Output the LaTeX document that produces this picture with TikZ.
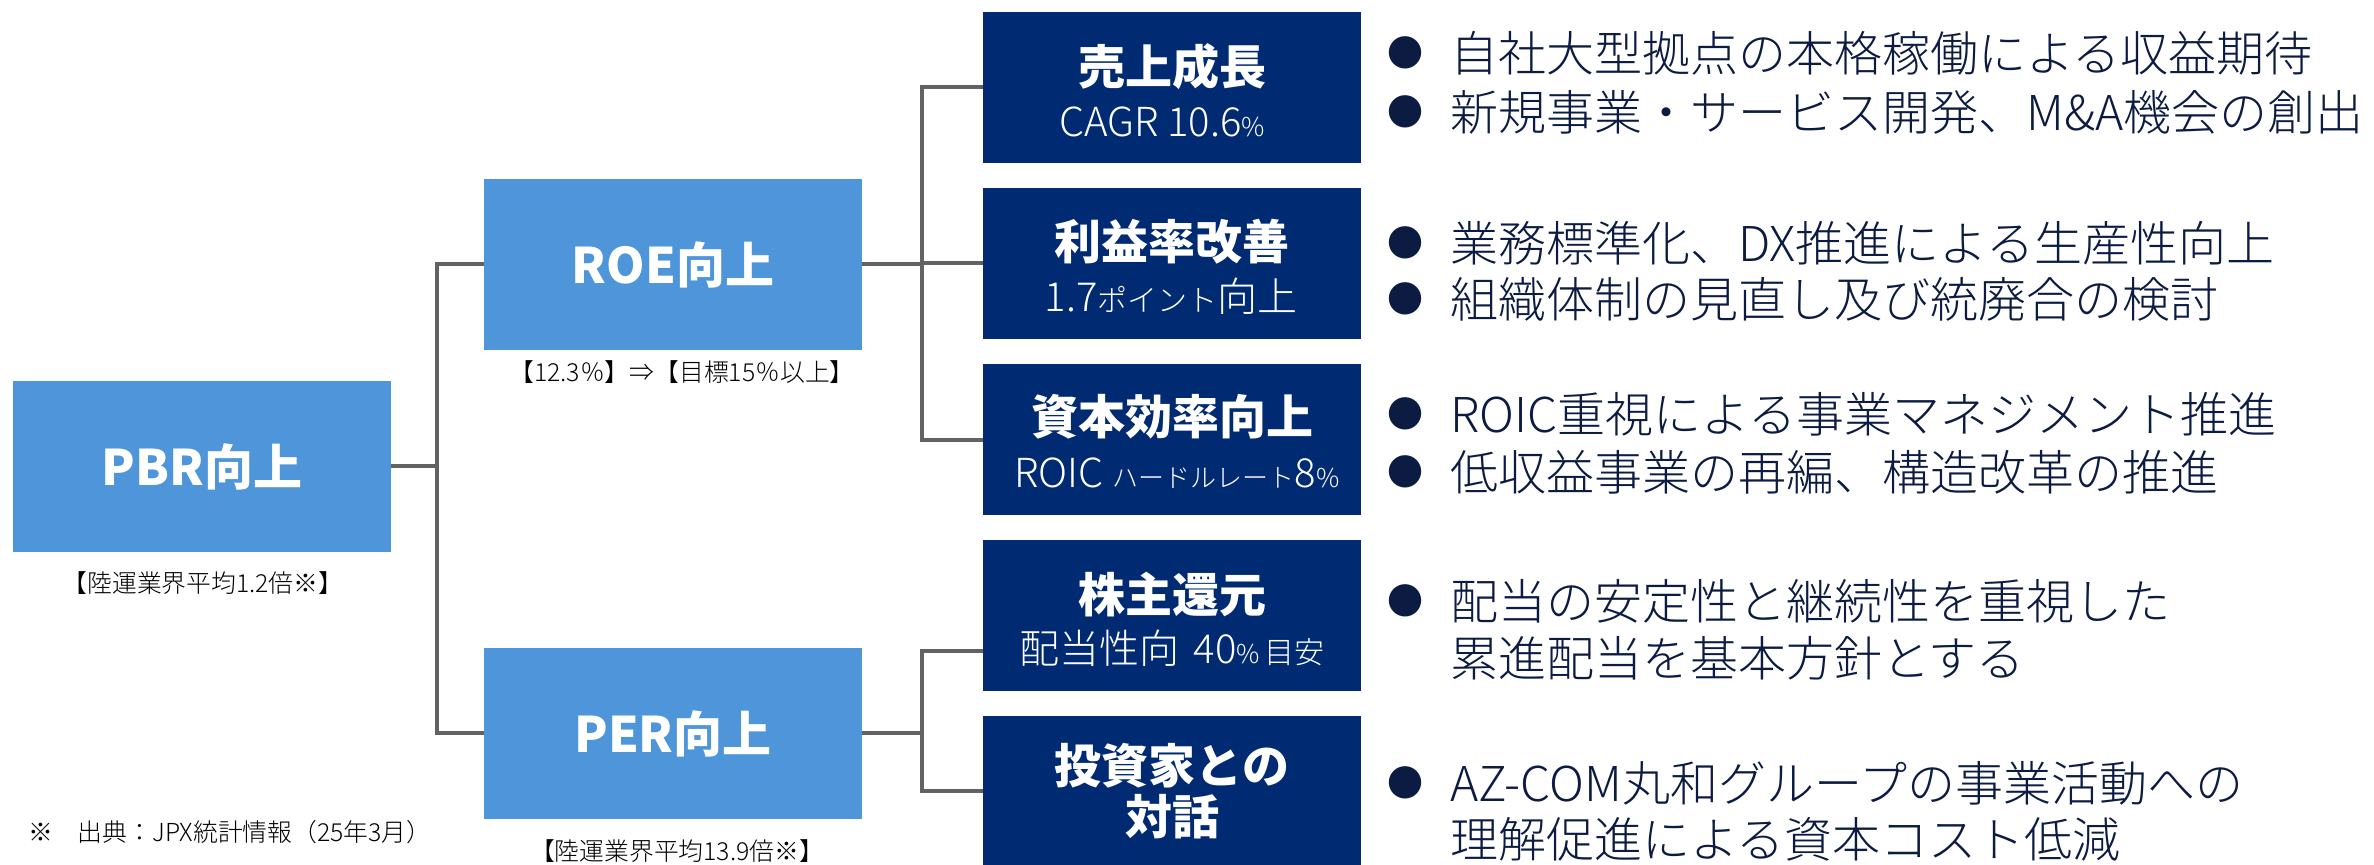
\documentclass[tikz,border=0pt]{standalone}
\usepackage{fontspec}
\setmainfont{Noto Sans CJK JP}
\newfontfamily\lightfont{Noto Sans CJK JP Light}
\definecolor{lblue}{HTML}{4F95D9}
\definecolor{navy}{HTML}{002B73}
\definecolor{txtnavy}{HTML}{0C1B42}
\definecolor{connc}{HTML}{626262}
\newcommand{\pctsm}{{\fontsize{13}{13}\selectfont\%}}
\newcommand{\kanasm}[1]{{\fontsize{15}{15}\selectfont #1}}
\begin{document}
\begin{tikzpicture}[x=0.5pt,y=-0.5pt,
  bluebox/.style={fill=lblue, minimum width=189pt, minimum height=85.5pt, inner sep=0pt,
    text=white, font=\bfseries\fontsize{24.5}{28}\selectfont},
  navybox/.style={fill=navy, minimum width=189pt, minimum height=75.5pt, inner sep=0pt},
  ttl/.style={text=white, font=\bfseries\fontsize{23.5}{25.5}\selectfont, align=center, inner sep=0pt},
  subl/.style={text=white, font=\lightfont\fontsize{20}{24}\selectfont, inner sep=0pt},
  lbl/.style={text=black, font=\lightfont\fontsize{12.4}{14}\selectfont, inner sep=0pt},
  conn/.style={draw=connc, line width=2pt},
  btxt/.style={text=txtnavy, font=\lightfont\fontsize{24}{28}\selectfont, anchor=west, inner sep=0pt},
  bul/.style={text=txtnavy, font=\fontsize{18}{18}\selectfont, inner sep=0pt}
]
\useasboundingbox (0,0) rectangle (2374,865);

% blue boxes
\node[bluebox] (PBR) at (202,466.5) {PBR向上};
\node[bluebox] (ROE) at (673,264.5) {ROE向上};
\node[bluebox] (PER) at (673,733.5) {PER向上};

\node[lbl] (PBRl) at (203,583) {【陸運業界平均1.2倍※】};
\node[lbl] (ROEl) at (682,372) {【12.3％】⇒【目標15％以上】};
\node[lbl] (PERl) at (677,851) {【陸運業界平均13.9倍※】};
\node[lbl, anchor=west] (note) at (28,832) {※　出典：JPX統計情報（25年3月）};

% navy boxes
\node[navybox] (A) at (1172,87.5) {};
\node[navybox] (B) at (1172,263.5) {};
\node[navybox] (C) at (1172,440) {};
\node[navybox] (D) at (1172,616) {};
\node[navybox] (E) at (1172,791.5) {};

\node[ttl] (At) at (1172,67) {売上成長};
\node[subl] (As) at (1162,122) {CAGR 10.6\pctsm};
\node[ttl] (Bt) at (1172,242) {利益率改善};
\node[subl] (Bs) at (1171,296) {1.7\kanasm{ポイント}向上};
\node[ttl] (Ct) at (1172,417) {資本効率向上};
\node[subl] (Cs) at (1177,473) {ROIC {\fontsize{13}{13}\selectfont ハードルレート}8\pctsm};
\node[ttl] (Dt) at (1172,595) {株主還元};
\node[subl] (Ds) at (1172,648) {配当性向\hspace{7pt}40\pctsm\hspace{2pt}\kanasm{目安}};
\node[ttl] (Et) at (1172,791.5) {投資家との\\対話};

% connectors
\coordinate (t1) at (437,466.5);
\coordinate (t2) at (922,264.5);
\coordinate (d4) at ([yshift=-17.5pt]D.west);
\draw[conn] (PBR.east) -- (t1);
\draw[conn] (ROE.west) -| (t1 |- PER.west) -- (PER.west);
\draw[conn] (ROE.east) -- (t2);
\draw[conn] (A.west) -| (t2 |- C.west) -- (C.west);
\draw[conn] (B.west) -- (B.west -| t2);
\draw[conn] (PER.east) -- (PER.east -| t2);
\draw[conn] (d4) -| (t2 |- E.west) -- (E.west);

% bullet texts
\node[bul] (b1) at (1405,53) {●};
\node[btxt] (l1) at (1450,53) {自社大型拠点の本格稼働による収益期待};
\node[bul] (b2) at (1405,112) {●};
\node[btxt] (l2) at (1450,112) {新規事業・サービス開発、M\&A機会の創出};
\node[bul] (b3) at (1405,243) {●};
\node[btxt] (l3) at (1450,243) {業務標準化、DX推進による生産性向上};
\node[bul] (b4) at (1405,299) {●};
\node[btxt] (l4) at (1450,299) {組織体制の見直し及び統廃合の検討};
\node[bul] (b5) at (1405,414) {●};
\node[btxt] (l5) at (1450,414) {ROIC重視による事業マネジメント推進};
\node[bul] (b6) at (1405,472) {●};
\node[btxt] (l6) at (1450,472) {低収益事業の再編、構造改革の推進};
\node[bul] (b7) at (1405,601) {●};
\node[btxt] (l7) at (1450,601) {配当の安定性と継続性を重視した};
\node[btxt] (l8) at (1450,658) {累進配当を基本方針とする};
\node[bul] (b9) at (1405,783) {●};
\node[btxt] (l9) at (1450,783) {AZ-COM丸和グループの事業活動への};
\node[btxt] (l10) at (1450,839) {理解促進による資本コスト低減};
\end{tikzpicture}
\end{document}
